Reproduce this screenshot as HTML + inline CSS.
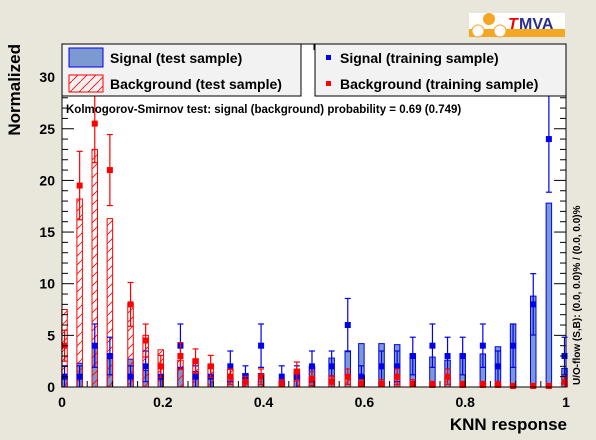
<!DOCTYPE html>
<html><head><meta charset="utf-8"><style>
body{margin:0;background:#e9e6dc;}
svg{display:block;font-family:"Liberation Sans",sans-serif;}
</style></head><body>
<svg id="chart" width="596" height="440" xmlns="http://www.w3.org/2000/svg">
<defs>
<pattern id="hatch" width="9" height="9" patternUnits="userSpaceOnUse">
<path d="M0,9 L9,0" stroke="#ff0000" stroke-width="0.8"/>
</pattern>
</defs>
<rect x="0" y="0" width="596" height="440" fill="#e9e6dc"/>
<rect x="62" y="44" width="504" height="343" fill="#ffffff"/>
<g id="marks"></g>
<g id="axes"></g>
<rect x="62" y="44" width="239" height="52" fill="#f2f2f2" stroke="#000" stroke-width="1"/>
<rect x="69" y="48" width="34" height="19" fill="#7d99d1" stroke="#0000ee" stroke-width="1"/>
<text x="110" y="63" font-size="14" font-weight="bold">Signal (test sample)</text>
<rect x="69" y="75" width="34" height="17" fill="url(#hatch)" stroke="#ff0000" stroke-width="1"/>
<text x="110" y="89" font-size="14" font-weight="bold">Background (test sample)</text>
<rect x="315" y="44" width="251" height="52" fill="#f2f2f2" stroke="#000" stroke-width="1"/>
<rect x="326" y="55" width="5" height="5" fill="#0000ee"/>
<text x="340" y="63" font-size="14" font-weight="bold">Signal (training sample)</text>
<rect x="326" y="81" width="5" height="5" fill="#ff0000"/>
<text x="340" y="89" font-size="14" font-weight="bold">Background (training sample)</text>
<text x="66" y="113" font-size="11.5" font-weight="bold">Kolmogorov-Smirnov test: signal (background) probability =  0.69 (0.749)</text>
<text x="567" y="430" font-size="17" font-weight="bold" text-anchor="end">KNN response</text>
<text transform="translate(20,44) rotate(-90)" font-size="17" font-weight="bold" text-anchor="end">Normalized</text>
<text transform="translate(580,385) rotate(-90)" font-size="10" font-weight="bold">U/O-flow (S,B): (0.0, 0.0)% / (0.0, 0.0)%</text>
<g>
<rect x="469" y="13" width="96" height="24" fill="#fff"/>
<rect x="469" y="29" width="96" height="8" fill="#f5a623"/>
<circle cx="489" cy="19" r="6" fill="#f5a623"/>
<circle cx="478" cy="31" r="6" fill="#fff" stroke="#f5a623" stroke-width="1"/><circle cx="500" cy="31" r="6" fill="#fff" stroke="#f5a623" stroke-width="1"/>
<text x="508" y="29" font-size="16" font-weight="bold" font-style="italic" fill="#ee0000">T</text>
<text x="519" y="29" font-size="16" font-weight="bold" fill="#2a2f8f">MVA</text>
</g>
</svg>
<script>
const xCenters=[0.005,0.035,0.065,0.095,0.136,0.166,0.196,0.235,0.265,0.295,0.334,0.364,0.395,0.436,0.466,0.496,0.535,0.567,0.594,0.634,0.665,0.696,0.735,0.765,0.795,0.835,0.865,0.895,0.935,0.966,0.997];
const sigTest=[1.0,2.3,3.8,3.2,2.7,1.6,1.0,1.8,1.5,1.0,1.0,1.3,1.3,0.6,1.4,2.0,2.8,3.5,4.2,4.2,4.1,3.2,2.9,2.6,3.2,3.2,3.9,6.1,8.8,17.8,1.8];
const bkgTest=[7.5,18.2,23.0,16.3,8.1,5.0,3.6,2.6,2.7,2.2,1.7,0.5,0.5,0.3,1.7,0.8,1.1,1.0,0.5,0.5,1.0,0.5,0.3,1.0,0.3,0.3,0.3,0.2,0.2,0.1,0.5];
const sigTrain=[1.0,1.0,4.0,3.0,1.0,2.0,1.0,4.0,1.0,1.0,2.0,1.0,4.0,1.0,1.0,2.0,2.0,6.0,1.0,2.0,2.0,3.0,4.0,3.0,3.0,4.0,2.0,4.0,8.0,24.0,3.0];
const bkgTrain=[4.0,19.5,25.5,21.0,8.0,4.5,2.0,3.0,2.5,2.0,1.0,0.5,1.0,0.3,1.5,0.8,0.5,1.0,0.3,0.3,1.0,0.3,0.2,1.0,0.2,0.2,0.2,0.1,0.1,0.1,0.5];
const yTicks=[0,5,10,15,20,25,30];
const xTicks=[0,0.2,0.4,0.6,0.8,1];
const X=v=>62+v*504, Y=v=>387-v*10.33;
const NS="http://www.w3.org/2000/svg";
function mk(parent,tag,attrs){const e=document.createElementNS(NS,tag);for(const k in attrs)e.setAttribute(k,attrs[k]);parent.appendChild(e);return e;}
const m=document.getElementById('marks'), ax=document.getElementById('axes');
const bw=5.5;
xCenters.forEach((xc,i)=>{
  const cx=X(xc);
  const s=mk(m,'rect',{x:cx-bw/2,y:Y(sigTest[i]),width:bw,height:387-Y(sigTest[i]),fill:'#7d99d1',stroke:'#0000ee','stroke-width':1});
  
  
  const b=mk(m,'rect',{x:cx-bw/2,y:Y(bkgTest[i]),width:bw,height:387-Y(bkgTest[i]),fill:'url(#hatch)',stroke:'#ff0000','stroke-width':1});
  
  
});
function pts(vals,color,name,f){
  vals.forEach((v,i)=>{
    const cx=X(xCenters[i]);const e=f*Math.sqrt(v);
    const g=mk(m,'g',{});
    
    
    mk(g,'line',{x1:cx,x2:cx,y1:Y(v+e),y2:Math.min(387,Y(Math.max(0,v-e))),stroke:color,'stroke-width':1.2});
    mk(g,'line',{x1:cx-3,x2:cx+3,y1:Y(v+e),y2:Y(v+e),stroke:color,'stroke-width':1.2});
    if(v-e>0)mk(g,'line',{x1:cx-3,x2:cx+3,y1:Y(v-e),y2:Y(v-e),stroke:color,'stroke-width':1.2});
    mk(g,'rect',{x:cx-3,y:Y(v)-3,width:6,height:6,fill:color});
  });
}
pts(sigTrain,'#0000ee','signal-training-point',1.05);
pts(bkgTrain,'#ff0000','background-training-point',0.75);
mk(ax,'rect',{x:62,y:44,width:504,height:343,fill:'none',stroke:'#000','stroke-width':1});
for(let v=0;v<=32;v++){const y=Y(v);if(y<44)break;const L=v%5===0?12:6;
  mk(ax,'line',{x1:62,x2:62+L,y1:y,y2:y,stroke:'#000'});mk(ax,'line',{x1:566,x2:566-L,y1:y,y2:y,stroke:'#000'});}
for(let k=0;k<=20;k++){const x=X(k*0.05);const L=k%4===0?12:6;
  mk(ax,'line',{x1:x,x2:x,y1:387,y2:387-L,stroke:'#000'});mk(ax,'line',{x1:x,x2:x,y1:44,y2:44+L,stroke:'#000'});}
yTicks.forEach(v=>{const t=mk(ax,'text',{x:55,y:Y(v)+5,'font-size':14,'font-weight':'bold','text-anchor':'end'});t.textContent=v;
  
  });
xTicks.forEach(v=>{const t=mk(ax,'text',{x:X(v),y:407,'font-size':14,'font-weight':'bold','text-anchor':'middle'});t.textContent=v;
  
  });
</script>
</body></html>
